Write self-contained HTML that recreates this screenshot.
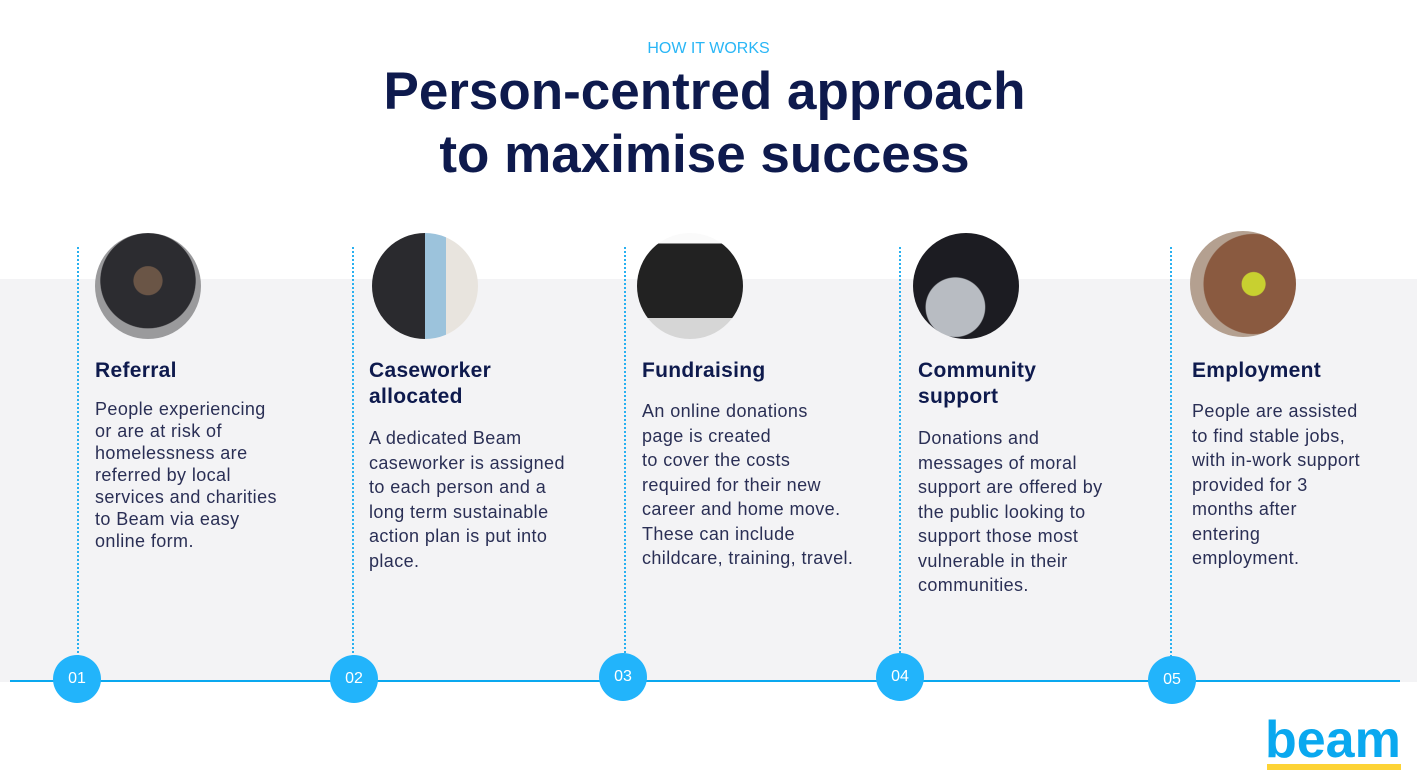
<!DOCTYPE html>
<html><head><meta charset="utf-8"><style>
body{margin:0;width:1417px;height:783px;position:relative;overflow:hidden;background:#fff;font-family:"Liberation Sans",sans-serif}
.gray{position:absolute;left:0;top:279px;width:1417px;height:403px;background:#f3f3f5}
.line{position:absolute;left:10px;top:680px;width:1390px;height:2px;background:#0aa8ef}
.dot{position:absolute;top:247px;height:410px;border-left:2px dotted #29b0f0}
.num{position:absolute;width:48px;height:48px;border-radius:50%;background:#22b4fb;color:#fff;font-size:16px;text-align:center;line-height:48px}
.ph{position:absolute;width:106px;height:106px;border-radius:50%}
.t{position:absolute;top:358px;font-weight:bold;font-size:21px;line-height:26px;color:#0e1a4d;letter-spacing:0.3px}
.b{position:absolute;font-size:18px;line-height:24.5px;color:#2a2f55;white-space:nowrap;letter-spacing:0.4px}
</style></head><body>
<div class="gray"></div>
<div style="position:absolute;top:40px;width:100%;text-align:center;color:#29b6f6;font-size:16px">HOW IT WORKS</div>
<div style="position:absolute;top:60px;width:100%;text-align:center;color:#0e1a4d;font-size:53px;font-weight:bold;line-height:63px;left:-4px">Person-centred approach<br>to maximise success</div>
<div class="line"></div>
<div class="dot" style="left:77px"></div><div class="dot" style="left:352px"></div><div class="dot" style="left:624px"></div><div class="dot" style="left:899px"></div><div class="dot" style="left:1170px"></div>
<div class="num" style="left:53px;top:655px">01</div>
<div class="num" style="left:330px;top:655px">02</div>
<div class="num" style="left:599px;top:653px">03</div>
<div class="num" style="left:876px;top:653px">04</div>
<div class="num" style="left:1148px;top:656px">05</div>
<div class="ph" style="left:95px;top:233px;background:radial-gradient(circle at 50% 45%,#6a5546 0 18%,#2c2c30 19% 60%,#9a9a9c 61%)"></div>
<div class="ph" style="left:372px;top:233px;background:linear-gradient(90deg,#2a2a2e 0 50%,#9cc3dc 50% 70%,#e8e4de 70%)"></div>
<div class="ph" style="left:637px;top:233px;background:linear-gradient(#fafafa 0 10%,#222 10% 80%,#d6d6d6 80%)"></div>
<div class="ph" style="left:913px;top:233px;background:radial-gradient(circle at 40% 70%,#b8bcc2 0 30%,#1c1c22 31%)"></div>
<div class="ph" style="left:1190px;top:231px;background:radial-gradient(circle at 60% 50%,#c8d030 0 14%,#8a5a40 15% 60%,#b4a090 61%)"></div>
<div class="t" style="left:95px">Referral</div>
<div class="b" style="left:95px;top:398px;line-height:22px">People experiencing<br>or are at risk of<br>homelessness are<br>referred by local<br>services and charities<br>to Beam via easy<br>online form.</div>
<div class="t" style="left:369px">Caseworker<br>allocated</div>
<div class="b" style="left:369px;top:426px">A dedicated Beam<br>caseworker is assigned<br>to each person and a<br>long term sustainable<br>action plan is put into<br>place.</div>
<div class="t" style="left:642px">Fundraising</div>
<div class="b" style="left:642px;top:399px">An online donations<br>page is created<br>to cover the costs<br>required for their new<br>career and home move.<br>These can include<br>childcare, training, travel.</div>
<div class="t" style="left:918px">Community<br>support</div>
<div class="b" style="left:918px;top:426px">Donations and<br>messages of moral<br>support are offered by<br>the public looking to<br>support those most<br>vulnerable in their<br>communities.</div>
<div class="t" style="left:1192px">Employment</div>
<div class="b" style="left:1192px;top:399px">People are assisted<br>to find stable jobs,<br>with in-work support<br>provided for 3<br>months after<br>entering<br>employment.</div>
<div style="position:absolute;left:1267px;top:764px;width:134px;height:6px;background:#fdd335"></div>
<div style="position:absolute;left:1265px;top:712px;font-size:52px;font-weight:bold;color:#0aa8ef;letter-spacing:0px;line-height:56px">beam</div>
</body></html>
